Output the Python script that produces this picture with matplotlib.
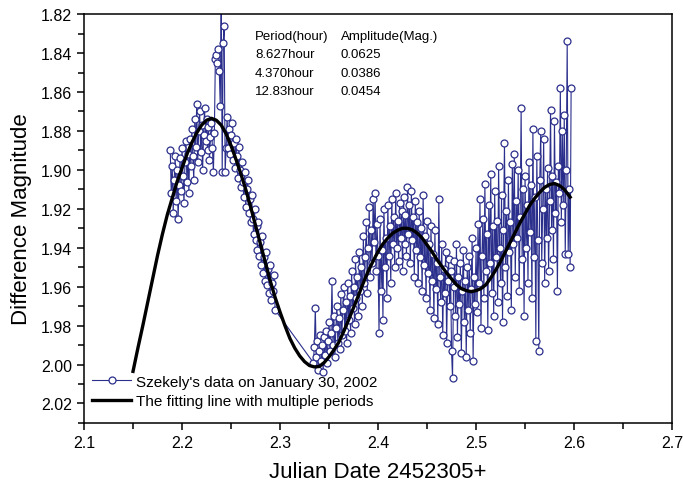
import matplotlib
matplotlib.use("Agg")
import matplotlib.pyplot as plt
from matplotlib.ticker import MultipleLocator

plt.rcParams['font.family'] = ['Liberation Sans', 'DejaVu Sans']

t_rise = [2.188, 2.189, 2.190, 2.191, 2.192, 2.193, 2.194, 2.195, 2.196, 2.197,
          2.198, 2.199, 2.200, 2.201, 2.202, 2.203, 2.204, 2.205, 2.206, 2.207,
          2.208, 2.209, 2.210, 2.211, 2.212, 2.213, 2.214, 2.215, 2.216, 2.217,
          2.218, 2.219, 2.220, 2.221, 2.222, 2.223, 2.224, 2.225, 2.226, 2.227,
          2.228, 2.229, 2.230, 2.231, 2.232, 2.233, 2.234, 2.235, 2.236, 2.237,
          2.238, 2.239, 2.240, 2.241, 2.242, 2.243, 2.244, 2.245]
m_rise = [1.890, 1.912, 1.898, 1.922, 1.905, 1.893, 1.916, 1.900, 1.925, 1.908,
          1.894, 1.911, 1.889, 1.903, 1.917, 1.896, 1.885, 1.906, 1.892, 1.912,
          1.884, 1.898, 1.879, 1.893, 1.905, 1.874, 1.888, 1.866, 1.896, 1.880,
          1.870, 1.891, 1.877, 1.900, 1.882, 1.868, 1.885, 1.874, 1.890, 1.878,
          1.895, 1.883, 1.876, 1.889, 1.901, 1.881, 1.843, 1.841, 1.845, 1.838,
          1.849, 1.867, 1.810, 1.901, 1.835, 1.826, 1.901, 1.889]

t_fall = [2.246, 2.247, 2.248, 2.249, 2.250, 2.251, 2.252, 2.253, 2.254, 2.255,
          2.256, 2.257, 2.258, 2.259, 2.260, 2.261, 2.262, 2.263, 2.264, 2.265,
          2.266, 2.267, 2.268, 2.269, 2.270, 2.271, 2.272, 2.273, 2.274, 2.275,
          2.276, 2.277, 2.278, 2.279, 2.280, 2.281, 2.282, 2.283, 2.284, 2.285,
          2.286, 2.287, 2.288, 2.289, 2.290, 2.291, 2.292, 2.293, 2.294, 2.295]
m_fall = [1.873, 1.889, 1.879, 1.892, 1.882, 1.876, 1.895, 1.886, 1.899, 1.884,
          1.893, 1.904, 1.888, 1.900, 1.909, 1.896, 1.906, 1.914, 1.901, 1.919,
          1.910, 1.905, 1.922, 1.915, 1.927, 1.913, 1.925, 1.933, 1.920, 1.936,
          1.929, 1.941, 1.927, 1.944, 1.937, 1.949, 1.934, 1.953, 1.945, 1.957,
          1.942, 1.959, 1.951, 1.963, 1.949, 1.967, 1.958, 1.962, 1.954, 1.972]

t_low = [2.334, 2.335, 2.336, 2.337, 2.338, 2.339, 2.340, 2.341, 2.342, 2.343,
         2.344, 2.345, 2.346, 2.347, 2.348, 2.349, 2.350, 2.351, 2.352, 2.353,
         2.354, 2.355, 2.356, 2.357, 2.358, 2.359, 2.360, 2.361, 2.362, 2.363,
         2.364, 2.365, 2.366, 2.367, 2.368, 2.369, 2.370, 2.371, 2.372, 2.373,
         2.374, 2.375, 2.376, 2.377, 2.378, 2.379, 2.380, 2.381, 2.382, 2.383,
         2.384, 2.385, 2.386, 2.387, 2.388, 2.389, 2.390, 2.391, 2.392, 2.393,
         2.394, 2.395, 2.396, 2.397, 2.398, 2.399, 2.400]
m_low = [1.999, 1.991, 1.971, 1.996, 1.988, 2.003, 1.993, 1.985, 1.998, 1.990,
         2.004, 1.986, 1.995, 1.983, 1.999, 1.988, 1.978, 1.993, 1.984, 1.957,
         1.990, 1.975, 1.996, 1.981, 1.970, 1.989, 1.976, 1.992, 1.964, 1.985,
         1.972, 1.960, 1.983, 1.968, 1.989, 1.958, 1.977, 1.965, 1.984, 1.952,
         1.971, 1.960, 1.979, 1.946, 1.966, 1.955, 1.975, 1.942, 1.962, 1.950,
         1.970, 1.934, 1.958, 1.945, 1.927, 1.963, 1.940, 1.919, 1.955, 1.931,
         1.948, 1.915, 1.937, 1.912, 1.952, 1.928, 1.944]

t_mid = [2.401, 2.402, 2.403, 2.404, 2.405, 2.406, 2.407, 2.408, 2.409, 2.410,
         2.411, 2.412, 2.413, 2.414, 2.415, 2.416, 2.417, 2.418, 2.419, 2.420,
         2.421, 2.422, 2.423, 2.424, 2.425, 2.426, 2.427, 2.428, 2.429, 2.430,
         2.431, 2.432, 2.433, 2.434, 2.435, 2.436, 2.437, 2.438, 2.439, 2.440,
         2.441, 2.442, 2.443, 2.444, 2.445, 2.446, 2.447, 2.448, 2.449, 2.450,
         2.451, 2.452, 2.453, 2.454, 2.455, 2.456, 2.457, 2.458, 2.459, 2.460,
         2.461, 2.462, 2.463, 2.464, 2.465, 2.466, 2.467, 2.468, 2.469, 2.470,
         2.471, 2.472, 2.473, 2.474, 2.475, 2.476, 2.477, 2.478, 2.479, 2.480,
         2.481, 2.482, 2.483, 2.484, 2.485, 2.486, 2.487, 2.488, 2.489, 2.490,
         2.491, 2.492, 2.493, 2.494, 2.495, 2.496, 2.497, 2.498, 2.499, 2.500]
m_mid = [1.984, 1.925, 1.962, 1.941, 1.977, 1.920, 1.950, 1.935, 1.966, 1.918,
         1.944, 1.929, 1.958, 1.915, 1.938, 1.924, 1.950, 1.912, 1.940, 1.926,
         1.947, 1.917, 1.935, 1.921, 1.952, 1.914, 1.938, 1.923, 1.944, 1.909,
         1.933, 1.918, 1.948, 1.911, 1.936, 1.924, 1.955, 1.916, 1.941, 1.927,
         1.958, 1.921, 1.945, 1.930, 1.962, 1.913, 1.949, 1.934, 1.966, 1.926,
         1.953, 1.938, 1.972, 1.929, 1.957, 1.943, 1.976, 1.931, 1.961, 1.948,
         1.979, 1.915, 1.955, 1.968, 1.938, 1.985, 1.951, 1.963, 1.942, 1.989,
         1.957, 1.946, 1.970, 1.952, 1.993, 2.007, 1.960, 1.947, 1.975, 1.938,
         1.986, 1.955, 1.969, 1.948, 1.994, 1.962, 1.941, 1.978, 1.957, 1.996,
         1.950, 1.972, 1.944, 1.984, 1.961, 1.935, 1.998, 1.955, 1.969, 1.940]

t_end = [2.501, 2.502, 2.503, 2.504, 2.505, 2.506, 2.507, 2.508, 2.509, 2.510,
         2.511, 2.512, 2.513, 2.514, 2.515, 2.516, 2.517, 2.518, 2.519, 2.520,
         2.521, 2.522, 2.523, 2.524, 2.525, 2.526, 2.527, 2.528, 2.529, 2.530,
         2.531, 2.532, 2.533, 2.534, 2.535, 2.536, 2.537, 2.538, 2.539, 2.540,
         2.541, 2.542, 2.543, 2.544, 2.545, 2.546, 2.547, 2.548, 2.549, 2.550,
         2.551, 2.552, 2.553, 2.554, 2.555, 2.556, 2.557, 2.558, 2.559, 2.560,
         2.561, 2.562, 2.563, 2.564, 2.565, 2.566, 2.567, 2.568, 2.569, 2.570,
         2.571, 2.572, 2.573, 2.574, 2.575, 2.576, 2.577, 2.578, 2.579, 2.580,
         2.581, 2.582, 2.583, 2.584, 2.585, 2.586, 2.587, 2.588, 2.589, 2.590,
         2.591, 2.592, 2.593, 2.594, 2.595, 2.596, 2.597]
m_end = [1.973, 1.928, 1.958, 1.915, 1.981, 1.944, 1.925, 1.966, 1.907, 1.952,
         1.933, 1.982, 1.918, 1.948, 1.902, 1.963, 1.929, 1.975, 1.911, 1.945,
         1.926, 1.968, 1.898, 1.940, 1.958, 1.913, 1.978, 1.931, 1.886, 1.950,
         1.921, 1.965, 1.905, 1.942, 1.927, 1.972, 1.897, 1.938, 1.892, 1.955,
         1.916, 1.935, 1.900, 1.962, 1.924, 1.868, 1.946, 1.910, 1.975, 1.903,
         1.940, 1.918, 1.958, 1.896, 1.932, 1.908, 1.966, 1.879, 1.945, 1.914,
         1.988, 1.893, 1.936, 1.993, 1.905, 1.880, 1.948, 1.920, 1.884, 1.958,
         1.910, 1.935, 1.899, 1.952, 1.916, 1.869, 1.931, 1.903, 1.946, 1.875,
         1.922, 1.906, 1.962, 1.898, 1.912, 1.858, 1.927, 1.880, 1.918, 1.872,
         1.943, 1.900, 1.834, 1.943, 1.910, 1.950, 1.858]

# fitted curve, read at 0.005 steps
t_fit = [2.150, 2.155, 2.160, 2.165, 2.170, 2.175, 2.180, 2.185, 2.190, 2.195,
         2.200, 2.205, 2.210, 2.215, 2.220, 2.225, 2.230, 2.235, 2.240, 2.245,
         2.250, 2.255, 2.260, 2.265, 2.270, 2.275, 2.280, 2.285, 2.290, 2.295,
         2.300, 2.305, 2.310, 2.315, 2.320, 2.325, 2.330, 2.335, 2.340, 2.345,
         2.350, 2.355, 2.360, 2.365, 2.370, 2.375, 2.380, 2.385, 2.390, 2.395,
         2.400, 2.405, 2.410, 2.415, 2.420, 2.425, 2.430, 2.435, 2.440, 2.445,
         2.450, 2.455, 2.460, 2.465, 2.470, 2.475, 2.480, 2.485, 2.490, 2.495,
         2.500, 2.505, 2.510, 2.515, 2.520, 2.525, 2.530, 2.535, 2.540, 2.545,
         2.550, 2.555, 2.560, 2.565, 2.570, 2.575, 2.580, 2.585, 2.590, 2.596]
m_fit = [2.0035, 1.9915, 1.980, 1.968, 1.956, 1.944, 1.933, 1.923, 1.9145, 1.906,
         1.899, 1.892, 1.886, 1.881, 1.877, 1.8745, 1.8735, 1.8745, 1.877, 1.8815,
         1.8875, 1.8945, 1.902, 1.910, 1.919, 1.9285, 1.938, 1.9475, 1.957, 1.9655,
         1.973, 1.980, 1.9865, 1.9915, 1.9955, 1.9985, 2.0005, 2.0012, 2.001, 1.999,
         1.996, 1.9925, 1.9885, 1.983, 1.977, 1.9708, 1.9645, 1.958, 1.952, 1.9468,
         1.942, 1.938, 1.935, 1.9325, 1.931, 1.930, 1.930, 1.9308, 1.9325, 1.935,
         1.9385, 1.942, 1.946, 1.9495, 1.953, 1.956, 1.959, 1.961, 1.962, 1.9625,
         1.962, 1.961, 1.959, 1.9555, 1.9515, 1.947, 1.942, 1.937, 1.932, 1.927,
         1.9225, 1.918, 1.9145, 1.9115, 1.909, 1.9075, 1.907, 1.908, 1.910, 1.914]

periods = ["8.627hour", "4.370hour", "12.83hour"]
amplitudes = ["0.0625", "0.0386", "0.0454"]

t_obs = t_rise + t_fall + t_low + t_mid + t_end
m_obs = m_rise + m_fall + m_low + m_mid + m_end

fig = plt.figure(figsize=(6.83, 4.89), dpi=100)
ax = fig.add_axes([0.123, 0.133, 0.861, 0.836])

navy = "#2b2f8c"
ax.plot(t_obs, m_obs, "-o", color=navy, lw=0.8, ms=5, mfc="white",
        mec=navy, mew=0.9, label="Szekely's data on January 30, 2002")
ax.plot(t_fit, m_fit, "-", color="black", lw=2.4,
        label="The fitting line with multiple periods")

ax.set_xlim(2.1, 2.7)
ax.set_ylim(2.03, 1.82)
ax.xaxis.set_major_locator(MultipleLocator(0.1))
ax.xaxis.set_minor_locator(MultipleLocator(0.05))
ax.yaxis.set_major_locator(MultipleLocator(0.02))
ax.yaxis.set_minor_locator(MultipleLocator(0.01))
ax.xaxis.set_major_formatter(plt.FuncFormatter(lambda v, p: "%.1f" % v))
ax.yaxis.set_major_formatter(plt.FuncFormatter(lambda v, p: "%.2f" % v))
ax.tick_params(which="both", direction="out", top=False, right=False,
               labelsize=11.5, width=1.1)
ax.tick_params(which="major", length=5)
ax.tick_params(which="minor", length=4)
for s in ax.spines.values():
    s.set_linewidth(1.1)

ax.set_xlabel("Julian Date 2452305+", fontsize=16, labelpad=8)
ax.set_ylabel("Difference Magnitude", fontsize=16, labelpad=6)

# period / amplitude table
ax.text(0.291, 0.947, "Period(hour)", transform=ax.transAxes, fontsize=9.5, va="center")
ax.text(0.437, 0.947, "Amplitude(Mag.)", transform=ax.transAxes, fontsize=9.5, va="center")
for i in range(len(periods)):
    yy = 0.902 - i * 0.045
    ax.text(0.291, yy, periods[i], transform=ax.transAxes, fontsize=9.5, va="center")
    ax.text(0.437, yy, amplitudes[i], transform=ax.transAxes, fontsize=9.5, va="center")

leg = ax.legend(loc="lower left", bbox_to_anchor=(0.0, 0.018), frameon=False,
                fontsize=11, handlelength=2.6, handletextpad=0.3,
                labelspacing=0.35, borderpad=0.3, borderaxespad=0.2)

fig.savefig("out.png", dpi=100)
